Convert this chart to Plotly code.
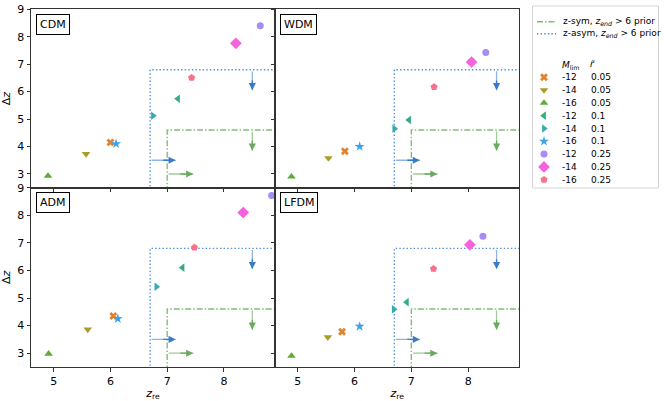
import plotly.graph_objects as go
from plotly.subplots import make_subplots

# ---------------- data ----------------
models = ["CDM", "WDM", "ADM", "LFDM"]
M_lim = ["-12", "-14", "-16", "-12", "-14", "-16", "-12", "-14", "-16"]
r_tilde = ["0.05", "0.05", "0.05", "0.1", "0.1", "0.1", "0.25", "0.25", "0.25"]

cdm_zre = [6.00, 5.57, 4.90, 7.19, 6.75, 6.10, 8.64, 8.21, 7.43]
cdm_dz = [4.15, 3.73, 2.93, 5.74, 5.12, 4.10, 8.40, 7.76, 6.51]
wdm_zre = [5.83, 5.54, 4.89, 6.96, 6.70, 6.09, 8.31, 8.06, 7.40]
wdm_dz = [3.83, 3.58, 2.90, 4.97, 4.65, 4.00, 7.43, 7.08, 6.17]
adm_zre = [6.05, 5.60, 4.91, 7.27, 6.81, 6.13, 8.84, 8.34, 7.48]
adm_dz = [4.35, 3.86, 2.98, 6.10, 5.41, 4.25, 8.72, 8.10, 6.83]
lfdm_zre = [5.78, 5.53, 4.89, 6.92, 6.69, 6.09, 8.26, 8.03, 7.39]
lfdm_dz = [3.78, 3.58, 2.90, 4.85, 4.59, 3.97, 7.24, 6.93, 6.06]

# prior boundaries: (z_re lower bound, Delta z upper bound)
sym_zre_min, sym_dz_max = 7.0, 4.6
asym_zre_min, asym_dz_max = 6.7, 6.8

x_ticks = [5, 6, 7, 8]
y_ticks = [3, 4, 5, 6, 7, 8, 9]

# ---------------- styles ----------------
colors = ["#e0832e", "#a99d2c", "#5dad34", "#33ae7e", "#36aba9", "#3ba3ec",
          "#a68cf4", "#f562dd", "#f7718b"]
symbols = ["x", "triangle-down", "triangle-up", "triangle-left", "triangle-right",
           "star", "circle", "diamond", "pentagon"]
sizes = [7, 7.5, 7.5, 7.5, 7.5, 7.5, 7, 9, 7.5]
sym_line_col = "rgba(110,175,100,0.85)"
asym_line_col = "rgba(60,130,215,0.9)"
sym_arrow_col = "#6aaa60"
sym_shaft_col = "#9fcb97"
asym_arrow_col = "#3a7bc8"
asym_shaft_col = "#8db5e6"
FONT = "DejaVu Sans"

data = {"CDM": (cdm_zre, cdm_dz), "WDM": (wdm_zre, wdm_dz),
        "ADM": (adm_zre, adm_dz), "LFDM": (lfdm_zre, lfdm_dz)}

fig = make_subplots(rows=2, cols=2, shared_xaxes=True, shared_yaxes=True,
                    horizontal_spacing=0, vertical_spacing=0)

W, H = 664, 401
ml, mr, mt, mb = 31, 5, 5, 34
pw, ph = W - ml - mr, H - mt - mb

def fx(px):
    return (px - ml) / pw

def fy(py):
    return (H - mb - py) / ph

xdoms = [[0, fx(275)], [fx(275), fx(519.3)]]
ydoms = [[fy(187.7), fy(9.3)], [0, fy(187.7)]]

positions = [(1, 1), (1, 2), (2, 1), (2, 2)]
XMAX, YMIN = 8.9, 2.5

for k, (m, (r, c)) in enumerate(zip(models, positions)):
    zre, dz = data[m]
    # prior boundary lines
    fig.add_trace(go.Scatter(x=[sym_zre_min, sym_zre_min, XMAX + 1],
                             y=[YMIN - 1, sym_dz_max, sym_dz_max], mode="lines",
                             line=dict(color=sym_line_col, width=1.4, dash="6px,2px,1.5px,2px"),
                             showlegend=False, hoverinfo="skip"), row=r, col=c)
    fig.add_trace(go.Scatter(x=[asym_zre_min, asym_zre_min, XMAX + 1],
                             y=[YMIN - 1, asym_dz_max, asym_dz_max], mode="lines",
                             line=dict(color=asym_line_col, width=1.4, dash="1.4px,2.2px"),
                             showlegend=False, hoverinfo="skip"), row=r, col=c)
    for i in range(len(zre)):
        fig.add_trace(go.Scatter(x=[zre[i]], y=[dz[i]], mode="markers",
                                 marker=dict(color=colors[i], symbol=symbols[i], size=sizes[i],
                                             line=dict(width=0)),
                                 showlegend=False, cliponaxis=False), row=r, col=c)
    xr = "x" if k == 0 else f"x{k+1}"
    yr = "y" if k == 0 else f"y{k+1}"
    arrows = [
        (8.5, asym_dz_max - 0.75, 8.5, asym_dz_max, asym_arrow_col, asym_shaft_col),
        (asym_zre_min + 0.45, 3.5, asym_zre_min, 3.5, asym_arrow_col, asym_shaft_col),
        (8.5, sym_dz_max - 0.75, 8.5, sym_dz_max, sym_arrow_col, sym_shaft_col),
        (sym_zre_min + 0.46, 3.0, sym_zre_min, 3.0, sym_arrow_col, sym_shaft_col),
    ]
    for (hx, hy, tx, ty, col, scol) in arrows:
        # light shaft along full length
        fig.add_annotation(x=hx, y=hy, ax=tx, ay=ty, xref=xr, yref=yr, axref=xr, ayref=yr,
                           text="", showarrow=True, arrowhead=0, arrowwidth=1.3,
                           arrowcolor=scol, standoff=0)
        # darker head part
        mx, my = tx + 0.45 * (hx - tx), ty + 0.45 * (hy - ty)
        fig.add_annotation(x=hx, y=hy, ax=mx, ay=my, xref=xr, yref=yr, axref=xr, ayref=yr,
                           text="", showarrow=True, arrowhead=2, arrowsize=1.1,
                           arrowwidth=1.3, arrowcolor=col, standoff=0)
    fig.add_annotation(x=0.021, y=0.974, xref=f"{xr} domain", yref=f"{yr} domain",
                       text=m, showarrow=False, xanchor="left", yanchor="top",
                       font=dict(family=FONT, size=11, color="black"),
                       bordercolor="black", borderwidth=1, borderpad=3, bgcolor="white")

axis_common = dict(showline=True, linecolor="#333333", linewidth=1, mirror=True,
                   ticks="outside", ticklen=3.5, tickwidth=0.8, tickcolor="#333333",
                   showgrid=False, zeroline=False, automargin=False,
                   tickfont=dict(family=FONT, size=11, color="black"))

for k in range(4):
    r, c = positions[k]
    fig.update_xaxes(range=[4.6, XMAX], tickvals=x_ticks, domain=xdoms[c - 1],
                     showticklabels=(r == 2), row=r, col=c, **axis_common)
    fig.update_yaxes(range=[YMIN, 9.0], tickvals=y_ticks, domain=ydoms[r - 1],
                     showticklabels=(c == 1), row=r, col=c, **axis_common)

for c in (1, 2):
    fig.update_xaxes(title=dict(text="<i>z</i><sub>re</sub>", standoff=3,
                                font=dict(family=FONT, size=11, color="black")), row=2, col=c)
for r in (1, 2):
    fig.update_yaxes(title=dict(text="Δ<i>z</i>", standoff=4,
                                font=dict(family=FONT, size=11, color="black")), row=r, col=1)

# ---------------- manual legend in its own axes (pixel units) ----------------
LW, LH = 127, 185
fig.update_layout(
    xaxis5=dict(domain=[fx(532), 1.0], range=[0, LW], visible=False, anchor="y5", fixedrange=True),
    yaxis5=dict(domain=[fy(190), fy(5)], range=[LH, 0], visible=False, anchor="x5", fixedrange=True),
)
fig.add_shape(type="rect", xref="x5", yref="y5", x0=0.5, x1=LW - 0.5, y0=1, y1=183,
              line=dict(color="#d4d4d4", width=1), fillcolor="white", layer="below")

lfont = dict(family=FONT, size=9, color="black")
line_rows = [(16.7, sym_line_col, "6px,2px,1.5px,2px", "z-sym, <i>z</i><sub><i>end</i></sub> > 6 prior"),
             (28.8, asym_line_col, "1.4px,2.2px", "z-asym, <i>z</i><sub><i>end</i></sub> > 6 prior")]
for (yy, col, dsh, txt) in line_rows:
    fig.add_trace(go.Scatter(x=[5, 24], y=[yy, yy], mode="lines", xaxis="x5", yaxis="y5",
                             line=dict(color=col, width=1.4, dash=dsh),
                             showlegend=False, hoverinfo="skip"))
    fig.add_annotation(x=29, y=yy, xref="x5", yref="y5", text=txt, showarrow=False,
                       xanchor="left", yanchor="middle", font=lfont)

fig.add_annotation(x=28, y=60, xref="x5", yref="y5", text="<i>M</i><sub>lim</sub>",
                   showarrow=False, xanchor="left", yanchor="middle", font=lfont)
fig.add_annotation(x=56, y=59, xref="x5", yref="y5", text="<i>r\u0303</i>",
                   showarrow=False, xanchor="left", yanchor="middle", font=lfont)

row0, dy = 72.3, 12.8
for i in range(len(M_lim)):
    yy = row0 + dy * i
    fig.add_trace(go.Scatter(x=[12], y=[yy], mode="markers", xaxis="x5", yaxis="y5",
                             marker=dict(color=colors[i], symbol=symbols[i], size=sizes[i],
                                         line=dict(width=0)),
                             showlegend=False, hoverinfo="skip", cliponaxis=False))
    fig.add_annotation(x=28, y=yy, xref="x5", yref="y5", text=M_lim[i], showarrow=False,
                       xanchor="left", yanchor="middle", font=lfont)
    fig.add_annotation(x=57, y=yy, xref="x5", yref="y5", text=r_tilde[i], showarrow=False,
                       xanchor="left", yanchor="middle", font=lfont)

fig.update_layout(width=W, height=H, margin=dict(l=ml, r=mr, t=mt, b=mb, autoexpand=False),
                  paper_bgcolor="white", plot_bgcolor="white", showlegend=False,
                  font=dict(family=FONT, size=11, color="black"))

fig.write_html("out.html", config={"displayModeBar": False},
               post_script="document.body.style.margin='0';document.body.style.padding='0';")
